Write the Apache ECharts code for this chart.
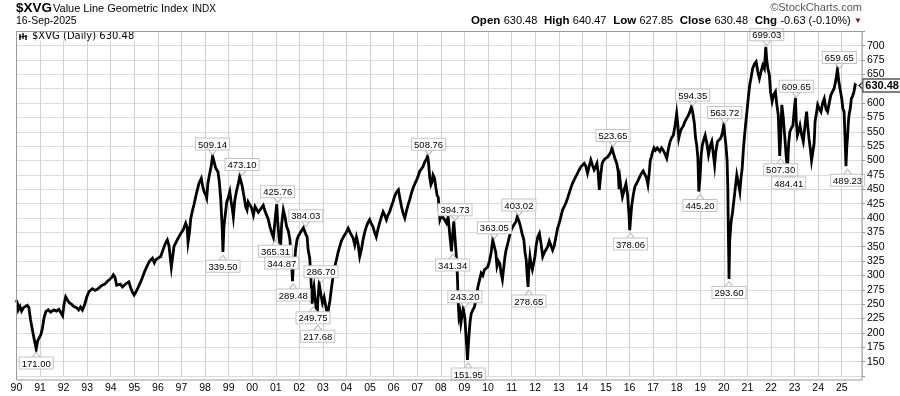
<!DOCTYPE html>
<html><head><meta charset="utf-8">
<script src="https://cdn.jsdelivr.net/npm/echarts@6/dist/echarts.min.js"></script>
<style>html,body{margin:0;padding:0;background:#fff}#c{width:900px;height:396px}</style>
</head><body><div id="c"></div>
<script>
// ---- data (decimal year, close) ----
const dates = [
1990.00,1990.04,1990.08,1990.15,1990.22,1990.30,1990.38,1990.46,1990.53,1990.60,1990.68,1990.75,1990.80,1990.84,1990.90,1990.96,
1991.03,1991.10,1991.17,1991.25,1991.35,1991.45,1991.59,1991.70,1991.80,1991.88,1991.96,
1992.02,1992.09,1992.16,1992.23,1992.33,1992.44,1992.55,1992.64,1992.72,1992.80,1992.90,1992.98,
1993.08,1993.22,1993.33,1993.43,1993.55,1993.64,1993.75,1993.86,1993.95,
1994.05,1994.11,1994.18,1994.25,1994.31,1994.40,1994.50,1994.56,1994.65,1994.77,1994.85,1994.92,1994.99,
1995.05,1995.13,1995.25,1995.34,1995.45,1995.55,1995.65,1995.77,1995.85,1995.91,
1996.00,1996.12,1996.22,1996.32,1996.40,1996.47,1996.57,1996.62,1996.68,1996.80,1996.90,1996.97,
1997.08,1997.18,1997.24,1997.28,1997.34,1997.39,1997.46,1997.53,1997.62,1997.74,1997.84,1997.90,1997.96,
1998.03,1998.07,1998.12,1998.17,1998.26,1998.32,1998.40,1998.45,1998.55,1998.60,1998.66,1998.70,1998.73,1998.76,1998.80,1998.87,1998.92,1998.98,
1999.05,1999.10,1999.15,1999.20,1999.26,1999.33,1999.40,1999.47,1999.57,1999.62,1999.68,1999.72,1999.78,1999.83,1999.90,1999.97,
2000.05,2000.12,2000.19,2000.26,2000.33,2000.40,2000.47,2000.54,2000.61,2000.68,2000.75,2000.82,2000.90,2000.99,
2001.04,2001.08,2001.14,2001.20,2001.25,2001.32,2001.39,2001.46,2001.53,2001.60,2001.67,2001.71,2001.74,2001.80,2001.84,2001.90,2001.95,
2002.02,2002.09,2002.17,2002.27,2002.33,2002.37,2002.44,2002.49,2002.54,2002.58,2002.62,2002.66,2002.72,2002.75,2002.78,2002.84,2002.92,2002.98,
2003.05,2003.10,2003.15,2003.20,2003.25,2003.30,2003.36,2003.43,2003.50,2003.57,2003.64,2003.71,2003.78,2003.88,2003.99,
2004.07,2004.14,2004.21,2004.28,2004.35,2004.42,2004.49,2004.56,2004.63,2004.70,2004.77,2004.84,2004.91,2004.98,
2005.05,2005.12,2005.19,2005.26,2005.33,2005.40,2005.48,2005.55,2005.62,2005.69,2005.76,2005.83,2005.90,2005.97,
2006.04,2006.12,2006.20,2006.26,2006.33,2006.40,2006.47,2006.54,2006.61,2006.68,2006.75,2006.82,2006.90,2006.97,
2007.03,2007.10,2007.17,2007.24,2007.31,2007.38,2007.44,2007.48,2007.53,2007.58,2007.62,2007.67,2007.73,2007.78,2007.84,2007.89,2007.96,
2008.03,2008.10,2008.17,2008.24,2008.31,2008.38,2008.45,2008.50,2008.55,2008.60,2008.65,2008.70,2008.74,2008.77,2008.81,2008.85,2008.90,2008.95,
2009.02,2009.06,2009.10,2009.13,2009.16,2009.20,2009.24,2009.29,2009.36,2009.43,2009.50,2009.57,2009.64,2009.71,2009.78,2009.85,2009.92,2009.99,
2010.06,2010.13,2010.20,2010.27,2010.33,2010.38,2010.44,2010.50,2010.55,2010.61,2010.67,2010.72,2010.77,2010.84,2010.91,2010.98,
2011.05,2011.12,2011.19,2011.24,2011.31,2011.38,2011.45,2011.52,2011.57,2011.62,2011.66,2011.70,2011.73,2011.78,2011.83,2011.88,2011.94,2011.99,
2012.04,2012.11,2012.18,2012.25,2012.32,2012.39,2012.46,2012.53,2012.60,2012.67,2012.74,2012.81,2012.88,2012.95,
2013.02,2013.09,2013.16,2013.23,2013.30,2013.37,2013.44,2013.51,2013.58,2013.65,2013.72,2013.80,2013.87,2013.94,
2014.01,2014.08,2014.15,2014.22,2014.29,2014.36,2014.43,2014.50,2014.57,2014.62,2014.67,2014.72,2014.78,2014.84,2014.90,2014.98,
2015.07,2015.14,2015.21,2015.26,2015.30,2015.38,2015.46,2015.52,2015.56,2015.60,2015.63,2015.70,2015.78,2015.85,2015.92,2015.98,
2016.01,2016.04,2016.09,2016.16,2016.23,2016.30,2016.37,2016.44,2016.51,2016.58,2016.65,2016.72,2016.78,2016.84,2016.88,2016.93,2016.98,
2017.04,2017.10,2017.18,2017.24,2017.29,2017.36,2017.43,2017.50,2017.58,2017.65,2017.72,2017.79,2017.86,2017.93,
2018.00,2018.05,2018.09,2018.14,2018.21,2018.28,2018.35,2018.43,2018.50,2018.57,2018.63,2018.68,2018.75,2018.80,2018.85,2018.90,2018.94,2018.99,
2019.04,2019.09,2019.14,2019.21,2019.28,2019.35,2019.42,2019.49,2019.56,2019.61,2019.66,2019.73,2019.80,2019.87,2019.94,
2020.00,2020.04,2020.09,2020.14,2020.17,2020.19,2020.21,2020.22,2020.25,2020.31,2020.37,2020.42,2020.48,2020.55,2020.62,2020.68,2020.73,2020.78,2020.83,2020.88,2020.93,2020.98,
2021.04,2021.10,2021.16,2021.22,2021.30,2021.37,2021.44,2021.51,2021.58,2021.65,2021.72,2021.78,2021.82,2021.87,2021.93,2021.98,
2022.05,2022.12,2022.19,2022.24,2022.31,2022.37,2022.41,2022.46,2022.52,2022.58,2022.64,2022.70,2022.75,2022.80,2022.86,2022.93,2022.99,
2023.04,2023.07,2023.12,2023.18,2023.23,2023.30,2023.37,2023.44,2023.51,2023.56,2023.61,2023.67,2023.72,2023.78,2023.83,2023.87,2023.92,2023.98,
2024.05,2024.12,2024.19,2024.26,2024.33,2024.40,2024.47,2024.54,2024.61,2024.68,2024.75,2024.82,2024.87,2024.90,2024.95,
2025.00,2025.05,2025.10,2025.14,2025.18,2025.21,2025.25,2025.28,2025.31,2025.36,2025.41,2025.46,2025.52,2025.57,2025.62,2025.67,2025.71
];
const closes = [
257,252,240,246,238,244,241,248,244,223,205,190,180,172,186,191,
196,207,226,237,240,236,240,238,241,240,230,
250,263,258,253,250,246,244,240,245,240,250,262,
272,277,274,276,280,283,285,290,293,
297,301,297,283,281,285,280,278,286,289,278,271,266,
270,276,287,296,308,317,325,330,322,327,
330,333,345,356,362,352,314,330,350,360,368,373,
380,391,384,358,375,398,412,423,440,460,469,455,446,
440,435,460,472,490,508,495,487,480,465,436,405,380,341,385,410,428,435,
446,430,418,402,430,446,458,472,457,445,431,420,414,428,425,418,
405,420,422,410,408,418,422,412,411,398,385,375,366,
405,424,395,365,346,390,414,402,385,378,362,320,290,315,324,345,362,
368,373,378,383,372,367,345,330,295,251,270,280,262,240,219,255,286,265,
252,262,263,240,232,245,257,278,298,315,327,340,350,360,368,
375,382,376,379,365,353,367,355,333,345,362,375,385,392,
397,390,385,375,367,380,391,402,411,405,397,405,411,420,
428,438,445,449,435,420,408,400,412,423,432,443,452,460,
466,472,481,485,489,497,502,508,495,470,458,462,475,470,455,440,436,
397,405,408,396,391,402,370,342,372,394,365,338,300,250,228,235,217,230,
243,225,200,175,153,175,199,220,234,240,246,262,280,292,304,300,310,313,
315,325,339,362,350,340,316,325,321,305,293,315,333,345,356,368,
379,385,388,394,402,395,385,372,362,340,327,300,280,310,333,318,310,322,
333,352,367,373,355,333,340,339,350,360,362,344,352,367,
382,391,402,414,420,426,434,443,452,460,466,472,478,484,
489,486,495,490,478,490,501,492,484,490,495,480,449,475,495,500,
504,506,510,515,522,515,504,495,481,450,466,455,437,450,460,440,
405,379,395,420,440,455,460,466,472,478,482,484,470,458,480,500,507,
515,522,518,522,524,516,522,518,512,504,520,533,540,544,
560,582,562,539,548,556,560,568,574,579,586,594,584,565,540,527,505,446,
470,510,527,535,544,530,510,525,533,510,492,515,533,530,539,
548,563,545,527,500,450,380,330,294,360,394,410,428,450,475,460,446,470,487,520,544,565,
585,610,632,645,660,668,672,655,643,655,666,660,698,675,660,649,
620,603,615,620,600,579,508,540,597,575,544,510,485,530,550,556,561,
590,609,570,544,552,561,545,533,560,585,560,539,520,500,498,530,568,
580,597,590,585,600,608,590,585,600,614,620,626,640,659,640,
632,620,608,590,585,540,490,520,544,565,579,590,608,612,620,632,630.48
];
// annotated highs / lows
const noteDates  = [1990.84,1998.32,1998.76,1999.57,2000.99,2001.08,2001.25,2001.74,2002.27,2002.58,2002.78,2002.92,2007.48,2008.60,2008.50,2009.02,2009.16,2010.27,2011.31,2011.73,2015.30,2016.04,2018.68,2018.99,2020.04,2020.22,2021.82,2022.41,2022.75,2023.07,2024.90,2025.25];
const noteValues = [171.00,509.14,339.50,473.10,365.31,425.76,344.87,289.48,384.03,249.75,217.68,286.70,508.76,394.73,341.34,243.20,151.95,363.05,403.02,278.65,523.65,378.06,594.35,445.20,563.72,293.60,699.03,507.30,484.41,609.65,659.65,489.23];
const noteSides  = ['low','high','low','high','low','high','low','low','high','low','low','high','high','high','low','high','low','high','high','low','high','low','high','low','high','low','high','low','low','high','high','low'];
const lastDate = 2025.71, lastClose = 630.48;
const symbolName = '$XVG', symbolDesc = 'Value Line Geometric Index', exch = 'INDX', asOf = '16-Sep-2025';
const ohlc = {Open:'630.48', High:'640.47', Low:'627.85', Close:'630.48', Chg:'-0.63 (-0.10%)'};

const chart = echarts.init(document.getElementById('c'), null, {renderer:'canvas'});
const FONT = '"Liberation Sans", Arial, sans-serif';

const notes = noteDates.map((d,i)=>{
  const hi = noteSides[i]==='high';
  return {
    coord:[d, noteValues[i]], value: noteValues[i],
    symbol:'triangle', symbolSize:[8,5], symbolRotate: hi?180:0, symbolOffset:[0, hi?-3:5],
    itemStyle:{color:'#fff', borderColor:'#bdbdbd', borderWidth:1},
    label:{show:true, position: hi?'top':'bottom', distance:0,
      formatter: p=>p.value.toFixed(2), color:'#000', fontSize:9.5, fontFamily:FONT,
      backgroundColor:'#fff', borderColor:'#c4c4c4', borderWidth:1, padding:[2,2,0,2], lineHeight:9}
  };
});

const option = {
  animation:false,
  grid:{left:16.4, right:38, top:31.3, bottom:20, containLabel:false},
  xAxis:{type:'value', min:1990, max:2025.86, interval:1,
    axisLine:{show:false}, axisTick:{show:false},
    splitLine:{show:true, lineStyle:{color:'#d0d0d0', width:1}},
    axisLabel:{margin:7, color:'#000', fontSize:10.5, fontFamily:FONT, showMaxLabel:false,
      formatter:v=> (Math.abs(v-Math.round(v))<1e-6 && v<2025.5) ? String(Math.round(v)%100).padStart(2,'0') : ''}},
  yAxis:{type:'value', position:'right', min:125, max:725, interval:25,
    axisLine:{show:false}, axisTick:{show:true, length:3, lineStyle:{color:'#999'}},
    splitLine:{show:true, lineStyle:{color:'#dcdcdc', width:1}},
    axisLabel:{margin:5, color:'#000', fontSize:10.5, fontFamily:FONT,
      formatter:v=> (v>=150 && v<=700) ? String(v) : ''}},
  series:[{
    type:'line', data: dates.map((d,i)=>[d, closes[i]]), showSymbol:false, symbol:'none',
    lineStyle:{color:'#000', width:2.8, join:'miter'}, z:3,
    markPoint:{data: notes.concat([{
      coord:[lastDate,lastClose], value:lastClose,
      symbol:'triangle', symbolSize:[9,5], symbolRotate:90, symbolOffset:[3,0],
      itemStyle:{color:'#fff', borderColor:'#000', borderWidth:1},
      label:{show:true, position:'right', distance:-1, formatter:p=>p.value.toFixed(2),
        color:'#000', fontWeight:'bold', fontSize:11, fontFamily:FONT,
        backgroundColor:'#fff', borderColor:'#000', borderWidth:1, padding:[2,2,0,2], lineHeight:10}
    }]), z:5}
  }],
  graphic:[
    {type:'rect', shape:{x:16.5, y:31.5, width:845.5, height:348.5}, style:{fill:'none', stroke:'#9a9a9a', lineWidth:1}, z:10, silent:true},
    {type:'text', x:16, y:15, style:{text:symbolName, font:'bold 13.5px '+FONT, fill:'#000', textVerticalAlign:'bottom'}},
    {type:'text', x:53, y:14.5, style:{text:symbolDesc, font:'11px '+FONT, fill:'#000', textVerticalAlign:'bottom'}},
    {type:'text', x:192, y:14.5, style:{text:exch, font:'10px '+FONT, fill:'#000', textVerticalAlign:'bottom'}},
    {type:'text', x:16, y:27, style:{text:asOf, font:'10.5px '+FONT, fill:'#000', textVerticalAlign:'bottom'}},
    {type:'text', x:862, y:13, style:{text:'\u00A9StockCharts.com', font:'11px '+FONT, fill:'#555', textAlign:'right', textVerticalAlign:'bottom'}},
    {type:'text', x:862, y:27, style:{
      text:'{b|Open} {v|'+ohlc.Open+'}  {b|High} {v|'+ohlc.High+'}  {b|Low} {v|'+ohlc.Low+'}  {b|Close} {v|'+ohlc.Close+'}  {b|Chg} {v|'+ohlc.Chg+'} {r|\u25BC}',
      textAlign:'right', textVerticalAlign:'bottom',
      rich:{b:{font:'bold 11.5px '+FONT, fill:'#000'}, v:{font:'11px '+FONT, fill:'#000'}, r:{font:'8px '+FONT, fill:'#a0002a'}}}},
    // legend background + small OHLC icon
    {type:'rect', shape:{x:17, y:32, width:128, height:9}, style:{fill:'#fff'}, z:8, silent:true},
    {type:'line', z:9, shape:{x1:20,y1:34,x2:20,y2:40}, style:{stroke:'#000', lineWidth:1.4}},
    {type:'line', z:9, shape:{x1:23,y1:33,x2:23,y2:39}, style:{stroke:'#000', lineWidth:1.4}},
    {type:'line', z:9, shape:{x1:26,y1:35,x2:26,y2:40}, style:{stroke:'#000', lineWidth:1.4}},
    {type:'line', z:9, shape:{x1:19,y1:37,x2:27,y2:36}, style:{stroke:'#000', lineWidth:1}},
    {type:'text', x:32, y:41, z:9, style:{text:symbolName+' (Daily) '+lastClose.toFixed(2), font:'10px "DejaVu Sans", Verdana, sans-serif', fill:'#000', textVerticalAlign:'bottom'}}
  ]
};
chart.setOption(option);
</script></body></html>
